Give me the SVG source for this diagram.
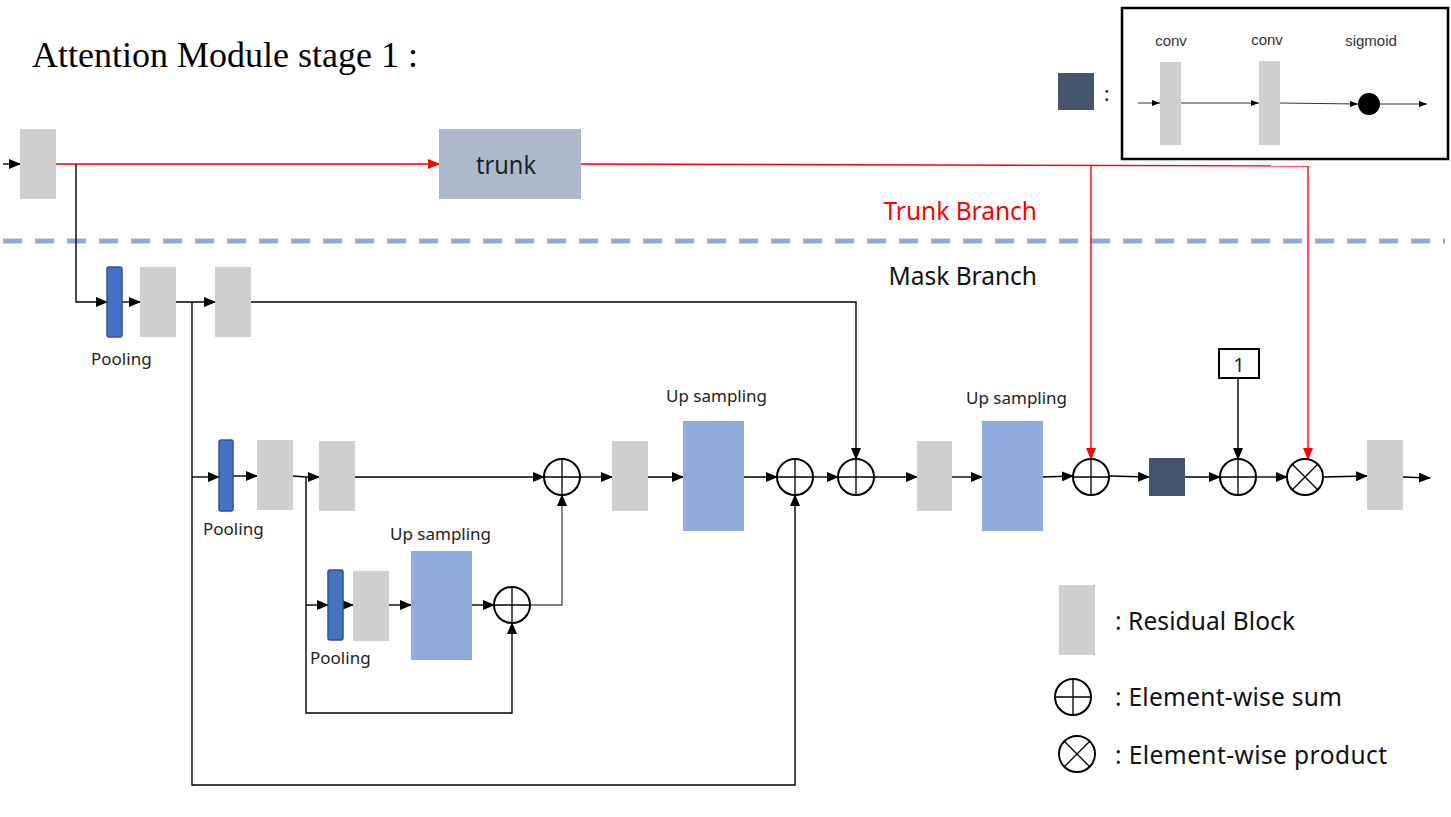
<svg xmlns="http://www.w3.org/2000/svg" width="1451" height="817" viewBox="0 0 1451 817">
<style>
.res{fill:#D0CECE}
.up{fill:#8FAADC}
.pool{fill:#4472C4;stroke:#2F528F;stroke-width:1.5}
.ln{fill:none;stroke:#000;stroke-width:1.4}
.rl{fill:none;stroke:#FF0000;stroke-width:1.4}
.op{fill:#fff;stroke:#000;stroke-width:2}
.x{stroke:#000;stroke-width:1.3}
.lbl{font-family:"Noto Sans","Liberation Sans",sans-serif;font-size:17px;fill:#222}
.big{font-family:"Noto Sans","Liberation Sans",sans-serif;font-size:24.5px;fill:#111}
.sm{font-family:"Liberation Sans",Arial,sans-serif;font-size:15px;fill:#333}
</style>
<defs>
<marker id="a" markerUnits="userSpaceOnUse" markerWidth="12" markerHeight="10" refX="11" refY="5" orient="auto"><path d="M0,0 L12,5 L0,10 Z" fill="#000"/></marker>
<marker id="r" markerUnits="userSpaceOnUse" markerWidth="12" markerHeight="10" refX="11" refY="5" orient="auto"><path d="M0,0 L12,5 L0,10 Z" fill="#FF0000"/></marker>
<marker id="s" markerUnits="userSpaceOnUse" markerWidth="8" markerHeight="6" refX="8" refY="3" orient="auto"><path d="M0,0 L8,3 L0,6 Z" fill="#000"/></marker>
</defs>
<rect width="1451" height="817" fill="#fff"/>
<text x="32" y="67" font-family="Liberation Serif,serif" font-size="36" fill="#000">Attention Module stage 1 :</text>
<line x1="3" y1="241" x2="1445" y2="241" stroke="#8FAADC" stroke-width="5" stroke-dasharray="19 13"/>
<text x="1037" y="220" text-anchor="end" class="big" style="fill:#FF0000">Trunk Branch</text>
<text x="1037" y="285" text-anchor="end" class="big">Mask Branch</text>

<g id="connectors">
<line x1="3" y1="164" x2="20" y2="164" class="ln" marker-end="url(#a)"/>
<line x1="56" y1="164" x2="439" y2="164" class="rl" marker-end="url(#r)"/>
<polyline points="581,164 1308,166" class="rl"/>
<polyline points="1091,165 1091,459" class="rl" marker-end="url(#r)"/>
<polyline points="1308,166 1308,459" class="rl" marker-end="url(#r)"/>
<polyline points="76,164 76,302 107,302" class="ln" marker-end="url(#a)"/>
<line x1="122" y1="302" x2="140" y2="302" class="ln" marker-end="url(#a)"/>
<line x1="176" y1="302" x2="215" y2="302" class="ln" marker-end="url(#a)"/>
<polyline points="251,302 856,302 856,459" class="ln" marker-end="url(#a)"/>
<polyline points="192,302 192,785 795,785 795,495" class="ln" marker-end="url(#a)"/>
<polyline points="192,477 219,477" class="ln" marker-end="url(#a)"/>
<line x1="233" y1="476" x2="257" y2="476" class="ln" marker-end="url(#a)"/>
<polyline points="293,476 306,477 319,477" class="ln" marker-end="url(#a)"/>
<line x1="355" y1="477" x2="544" y2="477" class="ln" marker-end="url(#a)"/>
<polyline points="306,477 306,713 512,713 512,623" class="ln" marker-end="url(#a)"/>
<polyline points="306,605 328,605" class="ln" marker-end="url(#a)"/>
<line x1="343" y1="605" x2="353" y2="605" class="ln" marker-end="url(#a)"/>
<line x1="389" y1="605" x2="411" y2="605" class="ln" marker-end="url(#a)"/>
<line x1="472" y1="605" x2="494" y2="605" class="ln" marker-end="url(#a)"/>
<polyline points="530,605 562,605 562,495" class="ln" style="stroke:#555" marker-end="url(#a)"/>
<line x1="580" y1="477" x2="612" y2="477" class="ln" marker-end="url(#a)"/>
<line x1="648" y1="477" x2="683" y2="477" class="ln" marker-end="url(#a)"/>
<line x1="744" y1="477" x2="777" y2="477" class="ln" marker-end="url(#a)"/>
<line x1="813" y1="477" x2="838" y2="477" class="ln" marker-end="url(#a)"/>
<line x1="874" y1="477" x2="917" y2="477" class="ln" marker-end="url(#a)"/>
<line x1="952" y1="477" x2="982" y2="477" class="ln" marker-end="url(#a)"/>
<line x1="1043" y1="477" x2="1073" y2="476" class="ln" marker-end="url(#a)"/>
<line x1="1109" y1="476" x2="1149" y2="477" class="ln" marker-end="url(#a)"/>
<line x1="1185" y1="477" x2="1220" y2="477" class="ln" marker-end="url(#a)"/>
<line x1="1238" y1="378" x2="1238" y2="459" class="ln" marker-end="url(#a)"/>
<line x1="1256" y1="477" x2="1287" y2="477" class="ln" marker-end="url(#a)"/>
<line x1="1323" y1="477" x2="1367" y2="476" class="ln" marker-end="url(#a)"/>
<line x1="1403" y1="477" x2="1430" y2="478" class="ln" marker-end="url(#a)"/>
</g>

<g id="input"><rect x="20" y="129" width="36" height="70" class="res"/></g>
<g id="trunk"><rect x="439" y="129" width="142" height="70" fill="#ADB9CA"/><text x="476" y="174" class="big" style="fill:#222;font-size:26px" textLength="60" lengthAdjust="spacingAndGlyphs">trunk</text></g>

<g id="pool1"><rect x="107" y="267" width="15" height="70" rx="2" class="pool"/><text x="91" y="365" class="lbl">Pooling</text></g>
<g id="res1"><rect x="140" y="267" width="36" height="70" class="res"/></g>
<g id="res2"><rect x="215" y="267" width="36" height="70" class="res"/></g>

<g id="pool2"><rect x="219" y="440" width="14" height="71" rx="2" class="pool"/><text x="203" y="535" class="lbl">Pooling</text></g>
<g id="res3"><rect x="257" y="440" width="36" height="70" class="res"/></g>
<g id="res4"><rect x="319" y="441" width="36" height="70" class="res"/></g>

<g id="pool3"><rect x="328" y="570" width="15" height="70" rx="2" class="pool"/><text x="310" y="664" class="lbl">Pooling</text></g>
<g id="res5"><rect x="353" y="571" width="36" height="70" class="res"/></g>
<g id="up1"><rect x="411" y="551" width="61" height="109" class="up"/><text x="390" y="540" class="lbl">Up sampling</text></g>
<g id="sum1"><circle cx="512" cy="605" r="18" class="op"/><path d="M494,605H530M512,587V623" class="x"/></g>

<g id="sum2"><circle cx="562" cy="477" r="18" class="op"/><path d="M544,477H580M562,459V495" class="x"/></g>
<g id="res6"><rect x="612" y="441" width="36" height="70" class="res"/></g>
<g id="up2"><rect x="683" y="421" width="61" height="110" class="up"/><text x="666" y="402" class="lbl">Up sampling</text></g>
<g id="sum3"><circle cx="795" cy="477" r="18" class="op"/><path d="M777,477H813M795,459V495" class="x"/></g>
<g id="sum4"><circle cx="856" cy="477" r="18" class="op"/><path d="M838,477H874M856,459V495" class="x"/></g>
<g id="res7"><rect x="917" y="441" width="35" height="70" class="res"/></g>
<g id="up3"><rect x="982" y="421" width="61" height="110" class="up"/><text x="966" y="404" class="lbl">Up sampling</text></g>
<g id="sum5"><circle cx="1091" cy="477" r="18" class="op"/><path d="M1073,477H1109M1091,459V495" class="x"/></g>
<g id="mask"><rect x="1149" y="458" width="36" height="38" fill="#44546A"/></g>
<g id="one"><rect x="1219" y="349" width="40" height="29" fill="#fff" stroke="#000" stroke-width="2"/><text x="1239" y="372" text-anchor="middle" class="lbl" style="font-size:20px">1</text></g>
<g id="sum6"><circle cx="1238" cy="477" r="18" class="op"/><path d="M1220,477H1256M1238,459V495" class="x"/></g>
<g id="prod"><circle cx="1305" cy="477" r="18" class="op"/><path d="M1292.3,464.3L1317.7,489.7M1317.7,464.3L1292.3,489.7" class="x"/></g>
<g id="res8"><rect x="1367" y="440" width="36" height="70" class="res"/></g>

<g id="legend-mask">
<rect x="1058" y="73" width="36" height="37" fill="#44546A"/>
<text x="1104" y="101" class="big" style="font-size:20px">:</text>
<rect x="1122" y="8" width="326" height="151" fill="none" stroke="#000" stroke-width="2.5"/>
<text x="1171" y="46" text-anchor="middle" class="sm">conv</text>
<text x="1267" y="45" text-anchor="middle" class="sm">conv</text>
<text x="1371" y="46" text-anchor="middle" class="sm">sigmoid</text>
<rect x="1160" y="62" width="21" height="83" class="res"/>
<rect x="1259" y="61" width="21" height="84" class="res"/>
<circle cx="1369" cy="104" r="11" fill="#000"/>
<line x1="1138" y1="103" x2="1160" y2="103" stroke="#333" stroke-width="1" marker-end="url(#s)"/>
<line x1="1181" y1="103" x2="1259" y2="103" stroke="#333" stroke-width="1" marker-end="url(#s)"/>
<line x1="1280" y1="103" x2="1358" y2="104" stroke="#333" stroke-width="1" marker-end="url(#s)"/>
<line x1="1380" y1="104" x2="1427" y2="104" stroke="#333" stroke-width="1" marker-end="url(#s)"/>
</g>

<g id="legend">
<rect x="1059" y="585" width="36" height="70" class="res"/>
<text x="1115" y="630" class="big" textLength="180" lengthAdjust="spacing">: Residual Block</text>
<circle cx="1073" cy="697" r="18" class="op"/><path d="M1055,697H1091M1073,679V715" class="x"/>
<text x="1115" y="706" class="big" textLength="227" lengthAdjust="spacing">: Element-wise sum</text>
<circle cx="1077" cy="754" r="18" class="op"/><path d="M1064.3,741.3L1089.7,766.7M1089.7,741.3L1064.3,766.7" class="x"/>
<text x="1115" y="764" class="big" textLength="272" lengthAdjust="spacing">: Element-wise product</text>
</g>
</svg>
